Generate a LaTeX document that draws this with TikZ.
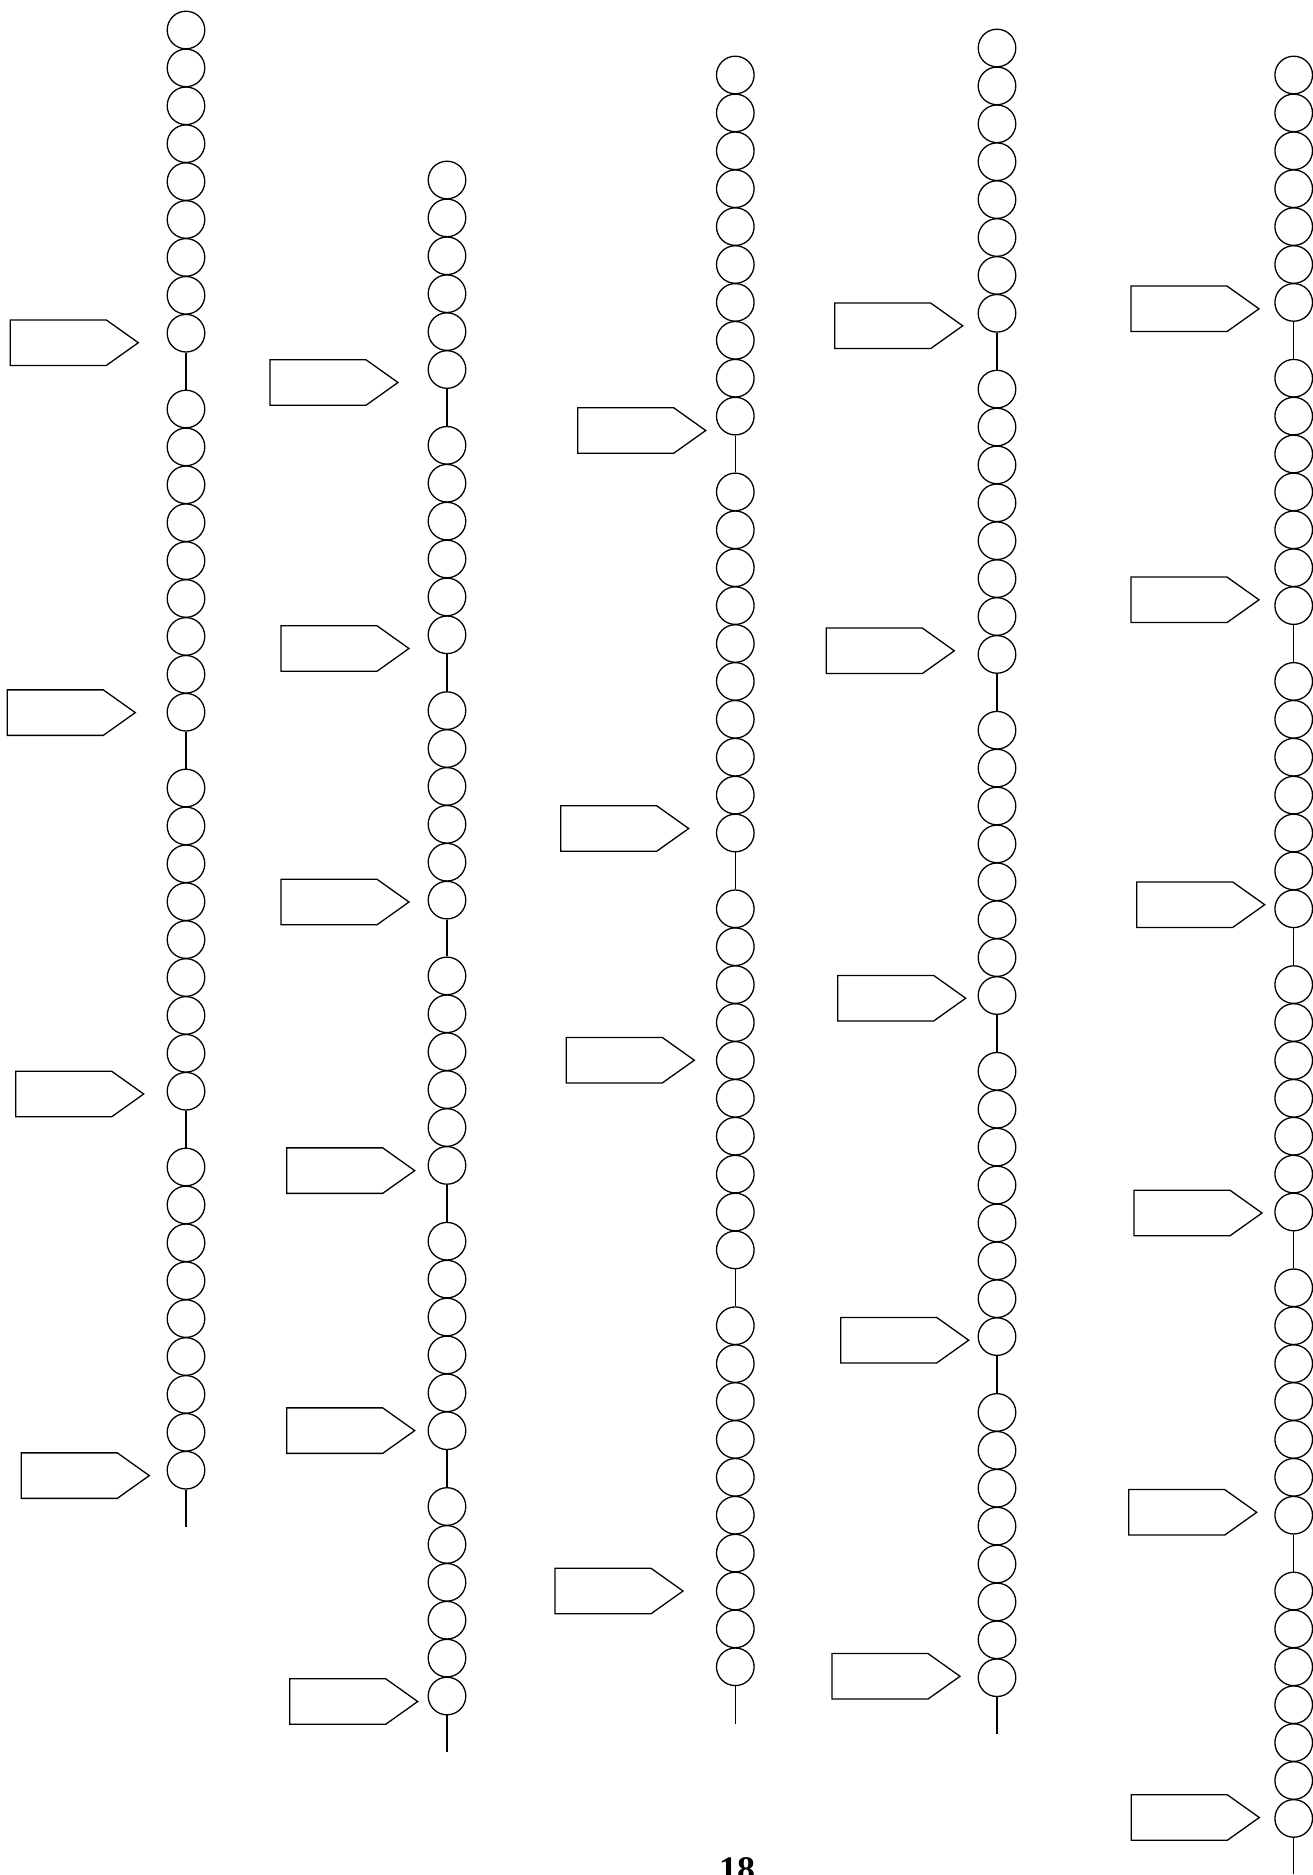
\documentclass[tikz,border=0pt]{standalone}
\usepackage{fontspec}
\setmainfont{Liberation Serif}
\tikzset{
  bead/.style={circle, draw, minimum size=37.6pt, inner sep=0pt, line width=1.3pt},
  link/.style={line width=1.3pt},
  tagbox/.style={draw, line width=1.3pt, line join=miter},
  tagarrow/.pic={
    \draw[tagbox] (0,-22.75) -- (96,-22.75) -- (128,0) -- (96,22.75) -- (0,22.75) -- cycle;
    \coordinate (-tip) at (128,0);
  }
}
\newcommand{\beadchain}[6]{%
  \foreach \g in {1,...,#4}{
    \foreach \j in {1,...,#5}{
      \pgfmathsetmacro{\yy}{#3 + ((\g-1)*(#5+1) + (\j-1))*37.9}
      \node[bead] (#1-\g-\j) at (#2,\yy) {};
    }
  }
  \pgfmathtruncatemacro{\lastg}{#4-1}
  \foreach \g [evaluate=\g as \h using int(\g+1)] in {1,...,\lastg}{
    \draw[link] (#1-\g-#5.south) -- (#1-\h-1.north);
  }
  \path (#1-#4-#5.center) ++(0,#6) coordinate (#1-end);
  \draw[link] (#1-#4-#5.south) -- (#1-end);
}
\begin{document}
\begin{tikzpicture}[x=1pt,y=-1pt]
\useasboundingbox (0,0) rectangle (1313,1875);

% chains: id, x, first y, groups, beads per group, tail
\beadchain{c1}{186}{30}{4}{9}{57}
\beadchain{c2}{447}{180}{6}{6}{56}
\beadchain{c3}{735.3}{75}{4}{10}{57}
\beadchain{c4}{997}{48}{5}{8}{56}
\beadchain{c5}{1293.7}{75}{6}{7}{56}

% column 1 tags
\pic (a1-1) at (10.3,342.7) {tagarrow};
\pic (a1-2) at (7.3,712.6) {tagarrow};
\pic (a1-3) at (15.7,1094) {tagarrow};
\pic (a1-4) at (21.3,1475.6) {tagarrow};
% column 2 tags
\pic (a2-1) at (270,382.5) {tagarrow};
\pic (a2-2) at (281,648.5) {tagarrow};
\pic (a2-3) at (281,902) {tagarrow};
\pic (a2-4) at (286.7,1170.6) {tagarrow};
\pic (a2-5) at (286.7,1430.6) {tagarrow};
\pic (a2-6) at (289.7,1701.5) {tagarrow};
% column 3 tags
\pic (a3-1) at (577.7,430.5) {tagarrow};
\pic (a3-2) at (560.7,828.5) {tagarrow};
\pic (a3-3) at (566.3,1060.2) {tagarrow};
\pic (a3-4) at (555,1591) {tagarrow};
% column 4 tags
\pic (a4-1) at (834.7,325.8) {tagarrow};
\pic (a4-2) at (826.3,650.8) {tagarrow};
\pic (a4-3) at (837.7,998.2) {tagarrow};
\pic (a4-4) at (840.7,1340.2) {tagarrow};
\pic (a4-5) at (832,1676.3) {tagarrow};
% column 5 tags
\pic (a5-1) at (1131,308.8) {tagarrow};
\pic (a5-2) at (1131,599.8) {tagarrow};
\pic (a5-3) at (1136.7,904.7) {tagarrow};
\pic (a5-4) at (1134,1213) {tagarrow};
\pic (a5-5) at (1128.7,1512.3) {tagarrow};
\pic (a5-6) at (1131.3,1817.5) {tagarrow};

\node[font=\fontsize{36}{40}\selectfont\bfseries, anchor=base, inner sep=0pt] (pagenum) at (737,1881) {18};
\end{tikzpicture}
\end{document}
